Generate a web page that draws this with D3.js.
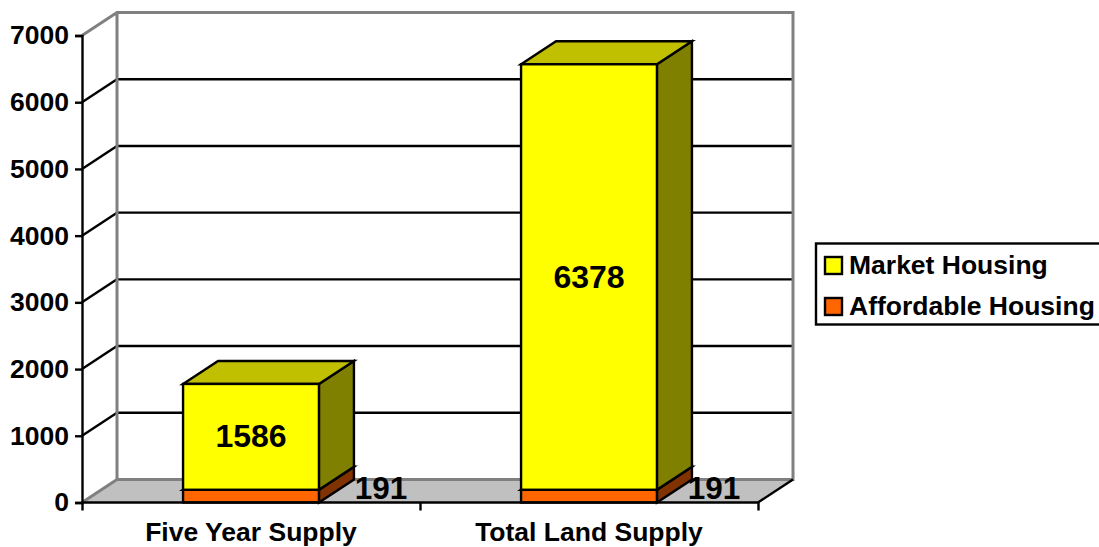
<!DOCTYPE html>
<html><head><meta charset="utf-8">
<style>html,body{margin:0;padding:0;background:#fff;overflow:hidden}svg{display:block}
text{font-family:"Liberation Sans",Arial,sans-serif;font-weight:bold;fill:#000}</style>
<script src="https://cdn.jsdelivr.net/npm/d3@7"></script></head><body>
<script>
const categories=["Five Year Supply","Total Land Supply"];
const affordable=[191,191];
const market=[1586,6378];
const seriesNames=["Market Housing","Affordable Housing"];
const seriesFill=["#ffff00","#ff6600"];
const seriesSide=["#808000","#803300"];
const seriesTop=["#c0c000","#c04d00"];
const yTicks=[0,1000,2000,3000,4000,5000,6000,7000];

const W=1099,H=547,dx=35,dy=-23,lw=2.4,fs=26.5;
const svg=d3.select("body").append("svg").attr("width",W).attr("height",H);
const x=d3.scaleBand().domain(categories).range([82,758]).paddingInner(0.598).paddingOuter(0.299);
const y=d3.scaleLinear().domain([0,7000]).range([502.5,35.5]);
const y0=y(0),yT=y(7000),xL=82,xR=758;
const line=(a,b,c,d,col,w)=>svg.append("line").attr("x1",a).attr("y1",b).attr("x2",c).attr("y2",d).attr("stroke",col).attr("stroke-width",w);
const poly=(pts,fill,stroke="#000",w=lw)=>svg.append("polygon").attr("points",pts.map(p=>p.join(",")).join(" ")).attr("fill",fill).attr("stroke",stroke).attr("stroke-width",w).attr("stroke-linejoin","miter");

// floor
poly([[xL,y0],[xL+dx,y0+dy],[xR+dx,y0+dy],[xR,y0]],"#c0c0c0","none",0);
// gridlines
yTicks.filter(t=>t>0&&t<7000).forEach(t=>{
  line(xL,y(t),xL+dx,y(t)+dy,"#000",lw);
  line(xL+dx,y(t)+dy,xR+dx,y(t)+dy,"#000",lw);
});
// walls (grey)
svg.append("path").attr("fill","none").attr("stroke","#808080").attr("stroke-width",3)
 .attr("d",`M${xL},${yT}L${xL+dx},${yT+dy}H${xR+dx}V${y0+dy}H${xL+dx}V${yT+dy}M${xL},${y0}L${xL+dx},${y0+dy}`);
line(xR+dx,y0+dy,xR,y0,"#000",lw);

// bars
function box(xa,w,vLo,vHi,i){
  const t=y(vHi),b=y(vLo);
  poly([[xa+w,t],[xa+w+dx,t+dy],[xa+w+dx,b+dy],[xa+w,b]],seriesSide[i]);
  poly([[xa,t],[xa+dx,t+dy],[xa+w+dx,t+dy],[xa+w,t]],seriesTop[i]);
  svg.append("rect").attr("x",xa).attr("y",t).attr("width",w).attr("height",b-t).attr("fill",seriesFill[i]).attr("stroke","#000").attr("stroke-width",lw);
}
categories.forEach((c,k)=>{
  box(x(c),x.bandwidth(),0,affordable[k],1);
  box(x(c),x.bandwidth(),affordable[k],affordable[k]+market[k],0);
});

// axes
const ax=svg.append("g").attr("transform",`translate(${xL},0)`)
  .call(d3.axisLeft(y).tickValues(yTicks).tickSize(7).tickPadding(6).tickFormat(d3.format("d")));
ax.selectAll("path,line").attr("stroke","#000").attr("stroke-width",lw);
ax.selectAll("text").attr("dy","0.32em").style("font-size",fs+"px");
const xg=svg.append("g").attr("transform",`translate(0,${y0})`)
  .call(d3.axisBottom(d3.scalePoint().domain([0,1,2]).range([xL,xR])).tickSize(8).tickFormat(""));
xg.selectAll("path,line").attr("stroke","#000").attr("stroke-width",lw);
xg.select("path").attr("d",`M${xL},0H${xR}`);
categories.forEach(c=>svg.append("text").attr("x",x(c)+x.bandwidth()/2).attr("y",541).attr("text-anchor","middle").style("font-size",fs+"px").text(c));

// data labels
categories.forEach((c,k)=>{
  const cx=x(c)+x.bandwidth()/2;
  svg.append("text").attr("x",cx).attr("y",y(affordable[k]+market[k]/2)+10.5).attr("text-anchor","middle").style("font-size","32px").text(market[k]);
  svg.append("text").attr("x",cx+(k?125:130)).attr("y",y(0)-3.5).attr("text-anchor","middle").style("font-size","31.5px").text(affordable[k]);
});

// legend
svg.append("rect").attr("x",816).attr("y",243.5).attr("width",300).attr("height",81).attr("fill","#fff").attr("stroke","#000").attr("stroke-width",lw);
seriesNames.forEach((n,i)=>{
  const ly=265+i*41;
  svg.append("rect").attr("x",825).attr("y",ly-8).attr("width",17).attr("height",17).attr("fill",seriesFill[i]).attr("stroke","#000").attr("stroke-width",lw);
  svg.append("text").attr("x",849).attr("y",ly+9).style("font-size",fs+"px").text(n);
});
</script></body></html>
